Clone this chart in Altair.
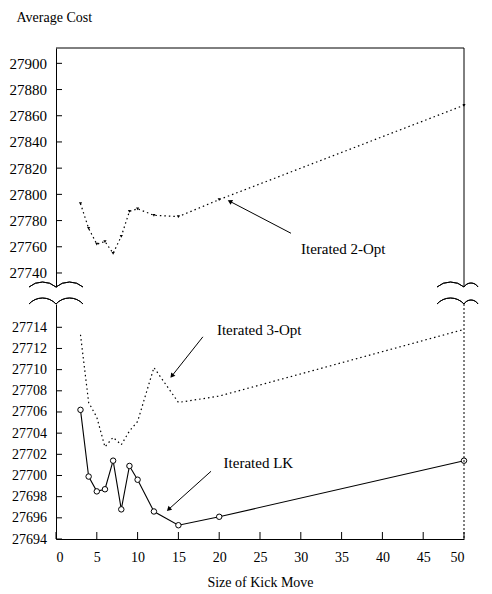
import math
import altair as alt
import pandas as pd

# ---------------- data ----------------
kick = [3, 4, 5, 6, 7, 8, 9, 10, 12, 15, 20, 50]
opt2 = [27793, 27774, 27762, 27764, 27755, 27768, 27787, 27789, 27784, 27783, 27796, 27868]
opt3 = [27713.3, 27706.9, 27705.5, 27702.7, 27703.6, 27702.9, 27704.2, 27705.1,
        27710.2, 27706.9, 27707.5, 27713.8]
lk = [27706.2, 27699.9, 27698.5, 27698.7, 27701.4, 27696.8, 27700.9, 27699.6,
      27696.6, 27695.3, 27696.1, 27701.4]

top_ticks = [27740, 27760, 27780, 27800, 27820, 27840, 27860, 27880, 27900]
bottom_ticks = [27694, 27696, 27698, 27700, 27702, 27704, 27706, 27708, 27710, 27712, 27714]
x_ticks = [0, 5, 10, 15, 20, 25, 30, 35, 40, 45, 50]

# annotations: label, text position, arrow tail, arrow head (data units)
ann_top = [dict(label="Iterated 2-Opt", tx=35.2, ty=27758.1, x1=28.8, y1=27770.3, x2=21.3, y2=27794.7)]
ann_bot = [dict(label="Iterated 3-Opt", tx=24.9, ty=27713.7, x1=18.0, y1=27713.1, x2=14.2, y2=27709.4),
           dict(label="Iterated LK", tx=24.8, ty=27701.2, x1=19.0, y1=27700.4, x2=13.8, y2=27696.8)]

# ---------------- layout ----------------
W = 408
H_TOP = 239
H_BOT = 235
X_DOM = [0, 50]
TOP_DOM = [27729.3, 27911.7]
BOT_DOM = [27694, 27716.2]
SERIF = "Liberation Serif, Times New Roman, serif"

xs = alt.Scale(domain=X_DOM, nice=False, zero=False)
ys_top = alt.Scale(domain=TOP_DOM, nice=False, zero=False)
ys_bot = alt.Scale(domain=BOT_DOM, nice=False, zero=False)

AX_TOP_Y = alt.Axis(values=top_ticks, format="d", ticks=False, grid=False,
                    labelPadding=9.5, labelFont=SERIF, labelFontSize=15,
                    labelColor="black", domainColor="black", domainWidth=1,
                    title="Average Cost", titleAngle=0, titleAlign="left",
                    titleBaseline="alphabetic", titleX=-40, titleY=-27,
                    titleFont=SERIF, titleFontSize=14, titleFontWeight="normal",
                    titleColor="black")
AX_BOT_Y = alt.Axis(values=bottom_ticks, format="d", ticks=False, grid=False,
                    labelPadding=9.5, labelFont=SERIF, labelFontSize=14,
                    labelColor="black", domainColor="black", domainWidth=1,
                    title=None)
AX_BOT_X = alt.Axis(values=x_ticks, format="d", ticks=False, grid=False,
                    labelPadding=11, labelFont=SERIF, labelFontSize=14,
                    labelColor="black", labelAngle=0, domainColor="black",
                    domainWidth=1, title="Size of Kick Move", titleFont=SERIF,
                    titleFontSize=14, titleFontWeight="normal", titleColor="black",
                    titlePadding=11)


def X(field, panel):
    if panel == "top":
        return alt.X(field, scale=xs, axis=None)
    return alt.X(field, scale=xs, axis=AX_BOT_X)


def Y(field, panel):
    if panel == "top":
        return alt.Y(field, scale=ys_top, axis=AX_TOP_Y)
    return alt.Y(field, scale=ys_bot, axis=AX_BOT_Y)


def head_angle(a, dom, h):
    sx = W / (X_DOM[1] - X_DOM[0])
    sy = h / (dom[1] - dom[0])
    dx = (a["x2"] - a["x1"]) * sx
    dy = -(a["y2"] - a["y1"]) * sy
    return math.degrees(math.atan2(dx, -dy)) % 360


def annotations(anns, panel, dom, h):
    df = pd.DataFrame(anns)
    df["ang"] = [head_angle(a, dom, h) for a in anns]
    txt = alt.Chart(df).mark_text(font=SERIF, fontSize=15, color="black",
                                  align="center", baseline="middle").encode(
        x=X("tx:Q", panel), y=Y("ty:Q", panel), text="label:N")
    arr = alt.Chart(df).mark_rule(color="black", strokeWidth=1).encode(
        x=X("x1:Q", panel), y=Y("y1:Q", panel), x2="x2:Q", y2="y2:Q")
    head = alt.Chart(df).mark_point(shape="triangle-up", filled=True, color="black",
                                    size=28, opacity=1).encode(
        x=X("x2:Q", panel), y=Y("y2:Q", panel),
        angle=alt.Angle("ang:Q", scale=None))
    return [arr, head, txt]


one = pd.DataFrame({"a": [0]})


def hump(cx, base_y, chord, sag):
    """a shallow arc (axis-break mark) whose ends sit on base_y"""
    r = (chord * chord / 4 + sag * sag) / (2 * sag)
    a = math.asin((chord / 2) / r)
    return alt.Chart(one).mark_arc(filled=False, stroke="black", strokeWidth=1).encode(
        x=alt.value(cx), y=alt.value(base_y - sag + r),
        radius=alt.value(r), radius2=alt.value(r),
        theta=alt.value(2 * math.pi - a), theta2=alt.value(2 * math.pi + a))


def break_mark(x0, y0, sag, right_chord=27, right_sag=None):
    rs = sag if right_sag is None else right_sag
    return [hump(x0 - 13.5, y0, 27, sag), hump(x0 + right_chord / 2, y0, right_chord, rs)]


# ---------------- top panel (Iterated 2-Opt) ----------------
d2 = pd.DataFrame({"k": kick, "v": opt2})
line2 = alt.Chart(d2).mark_line(color="black", strokeWidth=1.2, strokeDash=[1.5, 3]).encode(
    x=X("k:Q", "top"), y=Y("v:Q", "top"))
pts2 = alt.Chart(d2).mark_point(shape="triangle-down", filled=True, color="black",
                                size=10, opacity=1).encode(
    x=X("k:Q", "top"), y=Y("v:Q", "top"))
tk_top = alt.Chart(pd.DataFrame({"t": top_ticks})).mark_rule(color="black").encode(
    y=Y("t:Q", "top"), x=alt.value(0), x2=alt.value(6))
frame_top = alt.Chart(one).mark_rule(color="black", strokeWidth=1).encode(
    x=alt.value(0), x2=alt.value(W), y=alt.value(0))
frame_right = alt.Chart(one).mark_rule(color="black", strokeWidth=1).encode(
    x=alt.value(W), y=alt.value(0), y2=alt.value(H_TOP))

top = alt.layer(line2, pts2, tk_top, frame_top, frame_right,
                *annotations(ann_top, "top", TOP_DOM, H_TOP),
                *break_mark(0, H_TOP, 5),
                *break_mark(W, H_TOP, 5, right_chord=14, right_sag=4)
                ).properties(width=W, height=H_TOP)

# ---------------- bottom panel (3-Opt and LK) ----------------
d3 = pd.DataFrame({"k": kick, "v": opt3})
dl = pd.DataFrame({"k": kick, "v": lk})
line3 = alt.Chart(d3).mark_line(color="black", strokeWidth=1.2, strokeDash=[1.5, 3]).encode(
    x=X("k:Q", "bot"), y=Y("v:Q", "bot"))
linel = alt.Chart(dl).mark_line(color="black", strokeWidth=1.1).encode(
    x=X("k:Q", "bot"), y=Y("v:Q", "bot"))
ptsl = alt.Chart(dl).mark_point(shape="circle", filled=False, color="black", fill="white",
                                size=30, strokeWidth=1, opacity=1).encode(
    x=X("k:Q", "bot"), y=Y("v:Q", "bot"))
tk_left = alt.Chart(pd.DataFrame({"t": bottom_ticks})).mark_rule(color="black").encode(
    y=Y("t:Q", "bot"), x=alt.value(0), x2=alt.value(6))
tk_bot = alt.Chart(pd.DataFrame({"t": x_ticks})).mark_rule(color="black").encode(
    x=X("t:Q", "bot"), y=alt.value(H_BOT), y2=alt.value(H_BOT - 7))
right_dot = alt.Chart(one).mark_rule(color="black", strokeWidth=1, strokeDash=[2, 2]).encode(
    x=alt.value(W), y=alt.value(0), y2=alt.value(H_BOT))

bottom = alt.layer(line3, linel, ptsl, tk_left, tk_bot, right_dot,
                   *annotations(ann_bot, "bot", BOT_DOM, H_BOT),
                   *break_mark(0, 0, 6),
                   *break_mark(W, 0, 6, right_chord=14, right_sag=4)
                   ).properties(width=W, height=H_BOT)

chart = alt.vconcat(top, bottom, spacing=17, bounds="flush").properties(
    padding={"left": 1, "top": 2, "right": 0, "bottom": 0},
    background="white",
).configure_view(stroke=None)

chart.save("out.html", embed_options={"renderer": "svg", "actions": False})
